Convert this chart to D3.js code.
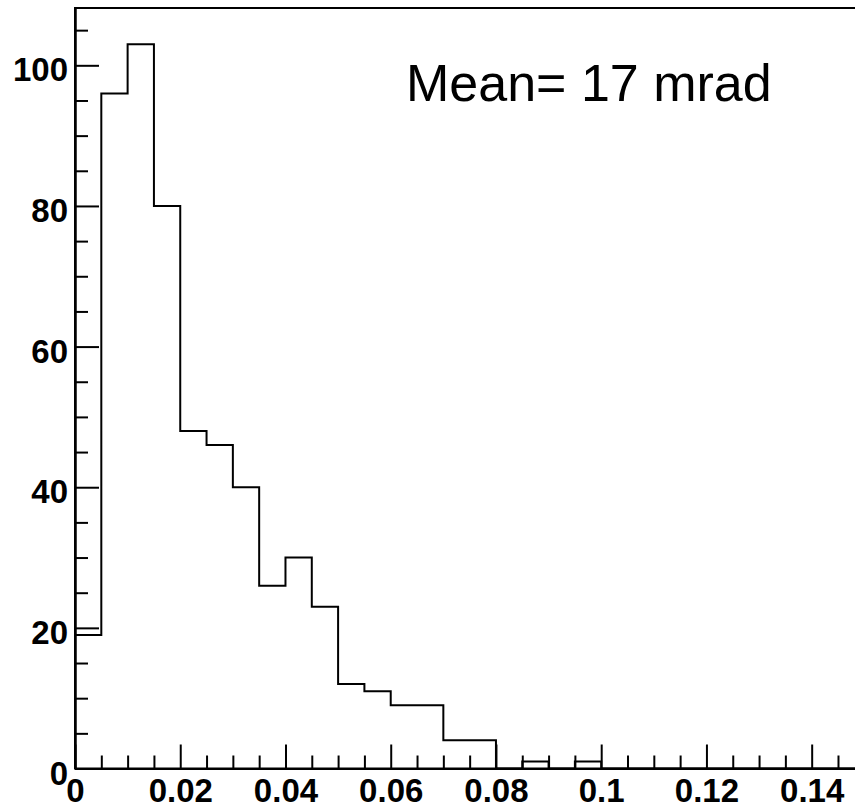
<!DOCTYPE html>
<html>
<head>
<meta charset="utf-8">
<script src="https://cdn.jsdelivr.net/npm/d3@7"></script>
<style>
  html, body { margin: 0; padding: 0; background: #fff; overflow: hidden; }
  svg { display: block; }
</style>
</head>
<body>
<svg id="chart" width="855" height="807"></svg>
<script>
// Histogram: bin width 0.005, 30 bins from 0 to 0.15
const binWidth = 0.005;
const binStarts = d3.range(30).map(i => +(i * binWidth).toFixed(3));
const counts = [19, 96, 103, 80, 48, 46, 40, 26, 30, 23,
                12, 11, 9, 9, 4, 4, 0, 1, 0, 1,
                0, 0, 0, 0, 0, 0, 0, 0, 0, 0];

const xMajorTicks = [0, 0.02, 0.04, 0.06, 0.08, 0.1, 0.12, 0.14];
const xTickLabels = ["0", "0.02", "0.04", "0.06", "0.08", "0.1", "0.12", "0.14"];
const yMajorTicks = [0, 20, 40, 60, 80, 100];
const yTickLabels = ["0", "20", "40", "60", "80", "100"];
const annotation = "Mean= 17 mrad";

const xMax = 0.15;
const yMax = 1.05 * d3.max(counts);

const plotLeft = 75, plotRight = 864.3, plotTop = 8, plotBottom = 768.5;

const svg = d3.select("#chart");

const x = d3.scaleLinear().domain([0, xMax]).range([plotLeft, plotRight]);
const y = d3.scaleLinear().domain([0, yMax]).range([plotBottom, plotTop]);

const tickFont = "'Liberation Sans', Arial, Helvetica, sans-serif";

// minor ticks every 0.005 on x, every 5 on y
const xMinor = d3.range(0, 31).map(i => +(i * 0.005).toFixed(3)).filter(v => !xMajorTicks.some(m => Math.abs(m - v) < 1e-9));
const yMinor = d3.range(0, 22).map(i => i * 5).filter(v => v <= yMax && !yMajorTicks.includes(v));

// frame
svg.append("rect")
  .attr("x", plotLeft).attr("y", plotTop)
  .attr("width", plotRight - plotLeft).attr("height", plotBottom - plotTop)
  .attr("fill", "none").attr("stroke", "#000").attr("stroke-width", 2);

// x axis: ticks pointing inward
const gx = svg.append("g").attr("transform", `translate(0,${plotBottom})`);
gx.call(d3.axisBottom(x).tickValues(xMajorTicks).tickSize(-24).tickSizeOuter(0)
  .tickFormat((d, i) => xTickLabels[i]));
gx.append("g").call(d3.axisBottom(x).tickValues(xMinor).tickSize(-13).tickSizeOuter(0).tickFormat(""));
gx.selectAll(".domain").attr("stroke", "#000").attr("stroke-width", 2);
gx.selectAll(".tick line").attr("stroke", "#000").attr("stroke-width", 2);
gx.selectAll(".tick text")
  .attr("y", 33).attr("dy", 0)
  .attr("font-family", tickFont).attr("font-weight", "bold")
  .attr("font-size", 33).attr("fill", "#000");

// y axis: ticks pointing inward
const gy = svg.append("g").attr("transform", `translate(${plotLeft},0)`);
gy.call(d3.axisLeft(y).tickValues(yMajorTicks).tickSize(-24).tickSizeOuter(0)
  .tickFormat((d, i) => yTickLabels[i]));
gy.append("g").call(d3.axisLeft(y).tickValues(yMinor).tickSize(-13).tickSizeOuter(0).tickFormat(""));
gy.selectAll(".domain").attr("stroke", "#000").attr("stroke-width", 2);
gy.selectAll(".tick line").attr("stroke", "#000").attr("stroke-width", 2);
gy.selectAll(".tick text")
  .attr("x", -7).attr("dy", "0.47em")
  .attr("font-family", tickFont).attr("font-weight", "bold")
  .attr("font-size", 33).attr("fill", "#000");

// histogram outline
const pts = [[0, 0]];
binStarts.forEach((b, i) => {
  pts.push([b, counts[i]]);
  pts.push([b + binWidth, counts[i]]);
});
pts.push([xMax, 0]);

svg.append("path")
  .datum(pts)
  .attr("fill", "none")
  .attr("stroke", "#000")
  .attr("stroke-width", 2)
  .attr("d", d3.line().x(d => x(d[0])).y(d => y(d[1])));

// annotation
svg.append("text")
  .attr("x", 406).attr("y", 100.5)
  .attr("font-family", tickFont)
  .attr("font-size", 52)
  .attr("fill", "#000")
  .text(annotation);
</script>
</body>
</html>
